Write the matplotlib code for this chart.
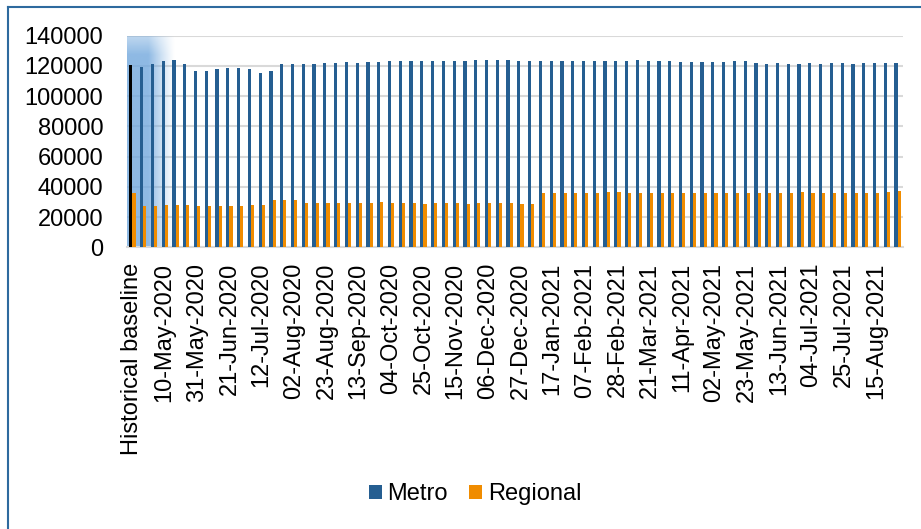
import numpy as np
import pandas as pd
import matplotlib
matplotlib.use("Agg")
import matplotlib.pyplot as plt
from matplotlib.patches import Patch
from matplotlib.lines import Line2D

plt.rcParams['font.family'] = ['Liberation Sans', 'DejaVu Sans']

week_dates = pd.date_range("2020-04-26", "2021-08-29", freq="7D")
categories = ["Historical baseline"] + [d.strftime("%d-%b-%Y") for d in week_dates]

metro = [120500, 119100, 121300, 123100, 123700, 121300, 116700, 116700, 118200, 118500,
         118500, 117800, 115600, 116500, 121100, 121200, 121300, 121500, 121800, 122200,
         122400, 122200, 122400, 122900, 123100, 123100, 123100, 123100, 123100, 123100,
         123100, 123300, 123700, 123700, 123700, 123600, 123500, 123500, 123100, 123100,
         123100, 123100, 123100, 123500, 123500, 123500, 123500, 123700, 123300, 123300,
         123300, 122900, 122600, 122600, 122900, 122900, 123100, 123100, 122200, 121300,
         122200, 121500, 121500, 121800, 121500, 121800, 121800, 121300, 121800, 121800,
         122000, 122200]

regional = [35700, 27100, 27600, 27800, 27800, 27800, 27600, 27300, 27300, 27300,
            27300, 27800, 27800, 31300, 31300, 31100, 29500, 29500, 29300, 29300,
            29300, 29300, 29300, 29800, 29500, 29300, 29300, 28900, 29300, 29300,
            29300, 28900, 29500, 29500, 29100, 29300, 28700, 28700, 35900, 36200,
            35900, 35900, 36200, 36200, 36400, 36400, 35700, 35900, 35900, 35900,
            35700, 35900, 35900, 36200, 35900, 35900, 36200, 36200, 36200, 35900,
            35700, 35900, 36400, 35900, 36200, 35700, 35900, 35900, 35900, 36200,
            36400, 37000]

series_names = ["Metro", "Regional"]
metro_color = "#255e91"
regional_color = "#f08c00"
grid_color = "#d9d9d9"

fig = plt.figure(figsize=(9.21, 5.29), dpi=100)
ax = fig.add_axes([127/921, 1 - 247.3/529, (903-127)/921, (247.3-35.7)/529])

n = len(categories)
x = np.arange(n)
w = 0.29
metro_colors = ["black"] + [metro_color] * (n - 1)
ax.bar(x - w/2, metro, width=w, color=metro_colors, zorder=3, linewidth=0)
ax.bar(x + w/2, regional, width=w, color=regional_color, zorder=3, linewidth=0)

# soft blue glow around the first category
gx = np.linspace(0, 1, 200)
gy = np.linspace(0, 1, 200)
GX, GY = np.meshgrid(gx, gy)
fx = np.where(GX < 0.45, 1.0, np.clip(1 - (GX - 0.45) / 0.55, 0, 1) ** 1.2)
fy = np.clip(0.5 + GY * 5, 0, 1)
rgba = np.zeros((200, 200, 4))
rgba[..., 0] = 0.45
rgba[..., 1] = 0.66
rgba[..., 2] = 0.87
rgba[..., 3] = fx * fy * 0.8
ax.imshow(rgba, extent=(-0.5, 3.9, 0, 141500), origin='upper', aspect='auto', zorder=2,
          interpolation='bilinear')

ax.set_xlim(-0.5, n - 0.5)
ax.set_ylim(0, 140000)
ax.set_yticks(np.arange(0, 140001, 20000))
ax.set_yticklabels([str(v) for v in range(0, 140001, 20000)])
ax.yaxis.grid(True, color=grid_color, linewidth=1.5, zorder=0)
ax.set_axisbelow(True)

ax.set_xticks(x[::3])
ax.set_xticklabels(categories[::3], rotation=90, va='top', ha='center')
ax.tick_params(axis='both', length=0, labelsize=17, colors='black')
ax.tick_params(axis='y', pad=17)
ax.tick_params(axis='x', pad=11)

for s in ['top', 'right', 'left']:
    ax.spines[s].set_visible(False)
ax.spines['bottom'].set_color(grid_color)
ax.spines['bottom'].set_linewidth(1.5)

handles = [Patch(facecolor=metro_color, edgecolor='none'),
           Patch(facecolor=regional_color, edgecolor='none')]
fig.legend(handles, series_names, loc='center', bbox_to_anchor=(0.516, 0.066), ncol=2,
           frameon=False, fontsize=17, handlelength=0.55, handleheight=0.55,
           handletextpad=0.25, columnspacing=0.9)

# chart border (top and left visible)
border = "#2e6a9e"
fig.add_artist(Line2D([8/921, 1.0], [1 - 7/529, 1 - 7/529], color=border, linewidth=1.5,
                      transform=fig.transFigure))
fig.add_artist(Line2D([8/921, 8/921], [0, 1 - 7/529], color=border, linewidth=1.5,
                      transform=fig.transFigure))

fig.savefig("out.png", dpi=100)
